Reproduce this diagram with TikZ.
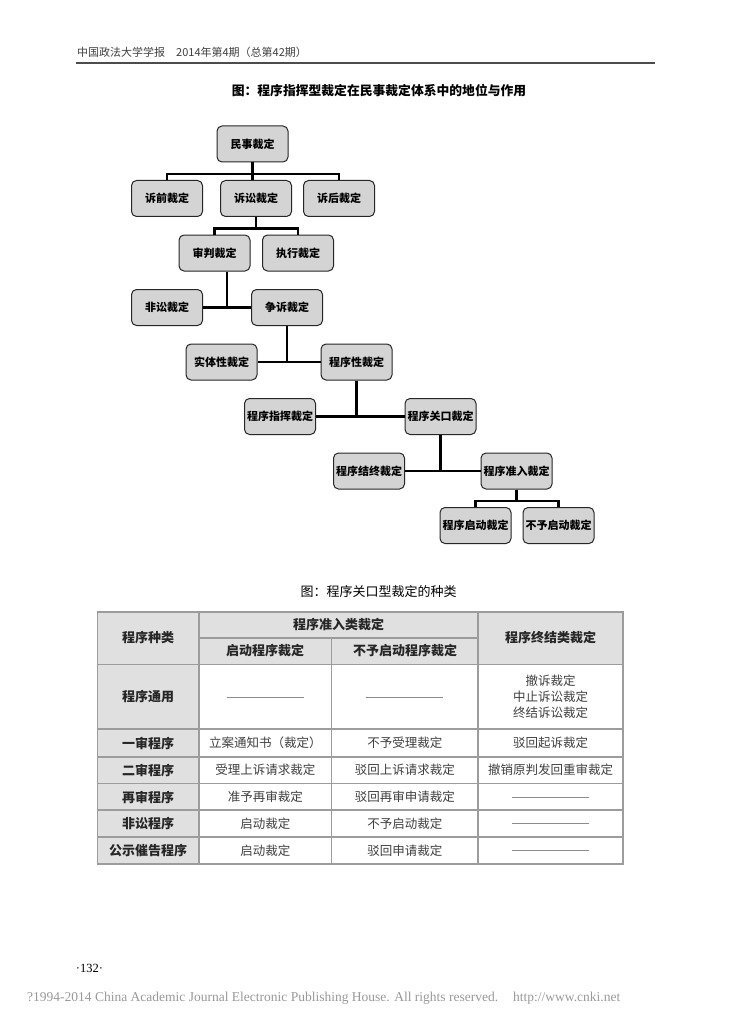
\documentclass[tikz,border=0pt]{standalone}
\usepackage{fontspec}
\setmainfont{Noto Sans CJK SC}
\newfontfamily\latinserif{Liberation Serif}
\usetikzlibrary{positioning, calc}
\definecolor{boxfill}{HTML}{D4D4D4}
\definecolor{gridgray}{HTML}{9C9C9C}
\definecolor{headfill}{HTML}{E0E0E0}
\tikzset{
  treebox/.style={rectangle, rounded corners=5pt, minimum width=71pt, minimum height=36pt, inner sep=0pt, text centered, draw=black!85, line width=1pt, fill=boxfill, font=\fontsize{11}{12}\selectfont\bfseries},
  link/.style={line width=2.8pt, black},
  gridline/.style={line width=1.4pt, draw=gridgray},
  headcell/.style={font=\fontsize{13}{14}\selectfont\bfseries, text=black!85},
  bodycell/.style={font=\fontsize{12.5}{16}\selectfont, text=black!75, align=center},
  nodash/.style={line width=0.8pt, draw=black!45}
}

\begin{document}
\begin{tikzpicture}[x=1pt, y=-1pt, node distance=17.5pt]
        \fill[white] (0,0) rectangle (728,1024);
        \useasboundingbox (0,0) rectangle (728,1024);

        % page header
        \node (journal) [anchor=west, inner sep=0pt, text=black!75, font=\fontsize{11}{12}\selectfont] at (77,52.5) {中国政法大学学报\quad 2014年第4期（总第42期）};
        \draw [line width=1.8pt, black!70] (76,63) -- (655,63);
        \node (treetitle) [font=\fontsize{12.8}{14}\selectfont\bfseries] at (379,91) {图：程序指挥型裁定在民事裁定体系中的地位与作用};

        % tree of rulings
        \node (civil) [treebox] at (252.5,144) {民事裁定};
        \node (lit) [treebox, below=of civil, xshift=3.5pt] {诉讼裁定};
        \node (pre) [treebox, left=17pt of lit] {诉前裁定};
        \node (post) [treebox, right=11pt of lit] {诉后裁定};
        \node (trial) [treebox, below=of lit, xshift=-41.5pt] {审判裁定};
        \node (exec) [treebox, right=11.5pt of trial] {执行裁定};
        \node (contest) [treebox, below=of trial, xshift=72.5pt] {争诉裁定};
        \node (nonlit) [treebox, left=48pt of contest] {非讼裁定};
        \node (proc) [treebox, below=of contest, xshift=69.5pt] {程序性裁定};
        \node (subst) [treebox, left=63pt of proc] {实体性裁定};
        \node (gate) [treebox, below=of proc, xshift=84pt] {程序关口裁定};
        \node (direct) [treebox, left=88.5pt of gate] {程序指挥裁定};
        \node (entry) [treebox, below=of gate, xshift=76pt] {程序准入裁定};
        \node (ending) [treebox, left=75.5pt of entry] {程序结终裁定};
        \node (launch) [treebox, below=of entry, xshift=-41pt] {程序启动裁定};
        \node (refuse) [treebox, right=11pt of launch] {不予启动裁定};

        % forks below 民事裁定 and 诉讼裁定
        \draw [link] (civil) -- (civil |- lit.north);
        \draw [link] (pre.north) -- ++(0,-6) -| (post.north);
        \draw [link] (lit.south) -- ++(0,12);
        \draw [link] (trial.north) -- ++(0,-6) -| (exec.north);

        % side branches
        \draw [link] (nonlit) -- (contest);
        \coordinate (jtrial) at ($(nonlit.east)!0.5!(contest.west)$);
        \draw [link] (trial.south -| jtrial) -- (jtrial);
        \draw [link] (subst) -- (proc);
        \draw [link] (contest) -- (contest |- proc);
        \draw [link] (direct) -- (gate);
        \draw [link] (proc) -- (proc |- gate);
        \draw [link] (ending) -- (entry);
        \draw [link] (gate) -- (gate |- entry);

        % fork below 程序准入裁定
        \draw [link] (entry.south) -- ++(0,12);
        \draw [link] (launch.north) -- ++(0,-6) -| (refuse.north);

        % table
        \node (tabletitle) [font=\fontsize{13}{14}\selectfont] at (378.5,592) {图：程序关口型裁定的种类};
        \fill [headfill] (97.5,612) rectangle (623,664.5);
        \fill [headfill] (97.5,664.5) rectangle (199,864);
        \draw [gridline] (97.5,612) rectangle (623,864);
        \foreach \y in {664.5,729,757,783.5,810,837}
            \draw [gridline] (97.5,\y) -- (623,\y);
        \draw [gridline] (199,638) -- (478,638);
        \foreach \x in {199,478}
            \draw [gridline] (\x,612) -- (\x,864);
        \draw [gridline] (331.5,638) -- (331.5,864);

        \node (kindhead) [headcell] at (148,638) {程序种类};
        \node (entryhead) [headcell] at (338.5,625) {程序准入类裁定};
        \node (launchhead) [headcell] at (265,651) {启动程序裁定};
        \node (refusehead) [headcell] at (405,651) {不予启动程序裁定};
        \node (endhead) [headcell] at (550.5,638) {程序终结类裁定};

        \foreach \y/\name [count=\i] in {697/程序通用, 743/一审程序, 770/二审程序, 797/再审程序, 823.5/非讼程序, 850.5/公示催告程序}
            \node (rowlabel\i) [headcell] at (148,\y) {\name};

        % 程序通用
        \draw [nodash] (265.25,697) ++(-38.5,0) -- ++(77,0);
        \draw [nodash] (404.75,697) ++(-38.5,0) -- ++(77,0);
        \node (endgeneral) [bodycell] at (550.5,697) {撤诉裁定\\中止诉讼裁定\\终结诉讼裁定};
        % 一审程序
        \node (launchfirst) [bodycell] at (265.25,743) {立案通知书（裁定）};
        \node (refusefirst) [bodycell] at (404.75,743) {不予受理裁定};
        \node (endfirst) [bodycell] at (550.5,743) {驳回起诉裁定};
        % 二审程序
        \node (launchsecond) [bodycell] at (265.25,770) {受理上诉请求裁定};
        \node (refusesecond) [bodycell] at (404.75,770) {驳回上诉请求裁定};
        \node (endsecond) [bodycell] at (550.5,770) {撤销原判发回重审裁定};
        % 再审程序
        \node (launchretrial) [bodycell] at (265.25,797) {准予再审裁定};
        \node (refuseretrial) [bodycell] at (404.75,797) {驳回再审申请裁定};
        \draw [nodash] (550.5,797) ++(-38.5,0) -- ++(77,0);
        % 非讼程序
        \node (launchnonlit) [bodycell] at (265.25,823.5) {启动裁定};
        \node (refusenonlit) [bodycell] at (404.75,823.5) {不予启动裁定};
        \draw [nodash] (550.5,823.5) ++(-38.5,0) -- ++(77,0);
        % 公示催告程序
        \node (launchnotice) [bodycell] at (265.25,850.5) {启动裁定};
        \node (refusenotice) [bodycell] at (404.75,850.5) {驳回申请裁定};
        \draw [nodash] (550.5,850.5) ++(-38.5,0) -- ++(77,0);

        % page footer
        \node (pagenum) [font=\latinserif\fontsize{12.5}{14}\selectfont] at (89.5,968) {·132·};
        \node (copyright) [anchor=west, inner sep=0pt, text=black!40, font=\latinserif\fontsize{13.5}{15}\selectfont] at (27,998) {?1994-2014 China Academic Journal Electronic Publishing House. All rights reserved.\hspace{15pt}http://www.cnki.net};
    \end{tikzpicture}
\end{document}
